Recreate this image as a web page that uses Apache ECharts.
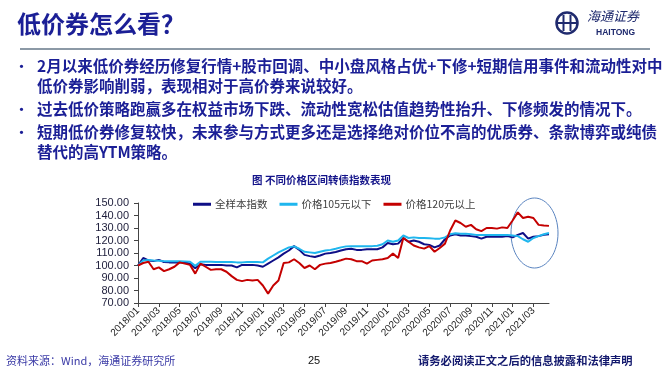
<!DOCTYPE html>
<html><head><meta charset="utf-8">
<script src="https://cdn.jsdelivr.net/npm/echarts@6/dist/echarts.min.js"></script>
<style>html,body{margin:0;padding:0;background:#fff;}#c{width:666px;height:373px;}</style>
</head><body><div id="c"></div>
<script>
const categories = [
'2018/01/01','2018/01/16','2018/02/01','2018/02/16','2018/03/01','2018/03/16','2018/04/01','2018/04/16','2018/05/01','2018/05/16',
'2018/06/01','2018/06/16','2018/07/01','2018/07/16','2018/08/01','2018/08/16','2018/09/01','2018/09/16','2018/10/01','2018/10/16',
'2018/11/01','2018/11/16','2018/12/01','2018/12/16','2019/01/01','2019/01/16','2019/02/01','2019/02/16','2019/03/01','2019/03/16',
'2019/04/01','2019/04/16','2019/05/01','2019/05/16','2019/06/01','2019/06/16','2019/07/01','2019/07/16','2019/08/01','2019/08/16',
'2019/09/01','2019/09/16','2019/10/01','2019/10/16','2019/11/01','2019/11/16','2019/12/01','2019/12/16','2020/01/01','2020/01/16',
'2020/02/01','2020/02/16','2020/03/01','2020/03/16','2020/04/01','2020/04/16','2020/05/01','2020/05/16','2020/06/01','2020/06/16',
'2020/07/01','2020/07/16','2020/08/01','2020/08/16','2020/09/01','2020/09/16','2020/10/01','2020/10/16','2020/11/01','2020/11/16',
'2020/12/01','2020/12/16','2021/01/01','2021/01/16','2021/02/01','2021/02/16','2021/03/01','2021/03/16','2021/04/01','2021/04/16'];

const seriesNames = ['全样本指数', '价格105元以下', '价格120元以上'];

const allIndex = [
100,106,104,103.5,104.5,102.8,102.5,102.5,102.5,102.5,
101.5,97.8,101,100.5,100.5,100.5,100.5,100,100,98.5,
100.5,100.5,100.5,100,99,101.5,104,106.5,109.5,112,
115.5,112.5,108.5,107.5,106.8,108,109.5,110,110.8,112,
113,113.4,112.5,112.5,113,113,113,114.5,118,117,
117.5,122,119,120,119,117,116.5,114.5,116,121,
124,125,124,124,123.5,123,121.5,123,123,123,
123,123.5,122.5,124.5,126,121.5,123,123.5,124.5,125];

const below105 = [
100,104,104.5,104,103.8,103.5,103.5,103.5,103.5,103.3,
103,99.7,103,103,103,102.8,102.8,102.8,102.8,102.5,
102.5,102.8,102.8,102.8,102.5,105.5,108,110.5,112.5,114.5,
115.3,113.4,111,110.5,110,111,112,112.5,113.4,114.5,
115.3,115.5,115.5,115.5,115.5,115.5,115.8,117,120,119,
120,124,122,122.5,122,122,121.8,121.5,121.5,122.5,
125,125.8,125.5,125.5,125,124.5,124.5,124.5,124.5,124.5,
124.5,124.5,124,123.5,121,119,122,123.5,125,126];

const above120 = [
100,102,103,97,98.5,95.5,97,99,102.5,101.5,
100.5,93.5,101.5,99,96.5,97,97,95,91.5,88.5,
87.5,88.5,88,88.5,84,77.5,84,88,102,102.5,
105,102,98,100,97,100.5,101.5,102,103,104.2,
105.5,105,103.5,103.5,101.5,104,104.5,105,106,109.5,
106,122,119,116,114.5,113.5,115.5,111,114,117.5,
128,136,134,131,132.5,129,127.5,130,130,129.5,
130.5,130,136,142.5,138,139,138,132.5,132,131.7];

const yTicks = {min: 70, max: 150, interval: 10};

const titleText = '低价券怎么看？';
const bullets = [
  {y: 68, lines: ['2月以来低价券经历修复行情+股市回调、中小盘风格占优+下修+短期信用事件和流动性对中', '低价券影响削弱，表现相对于高价券来说较好。']},
  {y: 111, lines: ['过去低价策略跑赢多在权益市场下跌、流动性宽松估值趋势性抬升、下修频发的情况下。']},
  {y: 134, lines: ['短期低价券修复较快，未来参与方式更多还是选择绝对价位不高的优质券、条款博弈或纯债', '替代的高YTM策略。']}
];
const chartTitle = '图 不同价格区间转债指数表现';
const sourceText = '资料来源：Wind，海通证券研究所';
const pageNo = '25';
const disclaimer = '请务必阅读正文之后的信息披露和法律声明';

const CJK = '"Noto Sans CJK SC", "Noto Sans", sans-serif';
const navy = '#1b1f96';

const graphics = [];
graphics.push({type:'text', left: 17, top: 12, style:{text: titleText, font: 'bold 24px ' + CJK, fill: navy}});
graphics.push({type:'line', shape:{x1: 20, y1: 49, x2: 650, y2: 49}, style:{stroke:'#8c99a6', lineWidth: 2}});
// logo
graphics.push({type:'circle', shape:{cx: 567, cy: 23, r: 10.5}, style:{fill:'none', stroke:'#1f2a6e', lineWidth: 2.5}});
graphics.push({type:'line', shape:{x1: 557, y1: 23, x2: 577, y2: 23}, style:{stroke:'#1f2a6e', lineWidth: 2}});
graphics.push({type:'line', shape:{x1: 563.5, y1: 15, x2: 563.5, y2: 31}, style:{stroke:'#1f2a6e', lineWidth: 2}});
graphics.push({type:'line', shape:{x1: 570.5, y1: 15, x2: 570.5, y2: 31}, style:{stroke:'#1f2a6e', lineWidth: 2}});
graphics.push({type:'text', left: 587, top: 10, style:{text:'海通证券', font:'italic 13px ' + CJK, fill:'#1f2a6e'}});
graphics.push({type:'text', left: 596, top: 28, style:{text:'HAITONG', font:'bold 8.5px "Liberation Sans", Arial, sans-serif', fill:'#1f2a6e'}});
// bullets
bullets.forEach(b => {
  graphics.push({type:'text', left: 15, top: b.y - 8, style:{text:'•', font:'bold 13px ' + CJK, fill: navy}});
  b.lines.forEach((ln, i) => {
    graphics.push({type:'text', left: 37, top: b.y - 10 + i * 20, style:{text: ln, font:'bold 15.5px ' + CJK, fill: navy}});
  });
});
graphics.push({type:'text', left: 252, top: 175, style:{text: chartTitle, font:'bold 10.5px ' + CJK, fill:'#14148a'}});
// highlight ellipse
graphics.push({type:'ellipse', shape:{cx: 534.5, cy: 233, rx: 23.5, ry: 35}, style:{fill:'none', stroke:'#5a84c0', lineWidth: 1}});
// footer
graphics.push({type:'text', left: 6, top: 355, style:{text: sourceText, font:'11px ' + CJK, fill:'#3a3aa6'}});
graphics.push({type:'text', left: 308, top: 355, style:{text: pageNo, font:'11px "Liberation Sans", Arial, sans-serif', fill:'#111'}});
graphics.push({type:'text', left: 418, top: 355, style:{text: disclaimer, font:'bold 11.3px ' + CJK, fill:'#141a6e'}});

function isLabel(idx, val) {
  const p = String(val).split('/');
  return p[2] === '01' && (+p[1]) % 2 === 1;
}

const chart = echarts.init(document.getElementById('c'), null, {renderer: 'canvas'});
chart.setOption({
  animation: false,
  backgroundColor: '#fff',
  grid: {left: 138, top: 203, width: 411, height: 100, containLabel: false},
  legend: {
    left: 188, top: 194, itemWidth: 18, itemHeight: 3, itemGap: 12, icon: 'rect',
    textStyle: {fontSize: 10.5, color: '#404040', fontFamily: CJK, padding: [0,0,0,-1]},
    data: seriesNames
  },
  xAxis: {
    type: 'category', data: categories, boundaryGap: false,
    axisLine: {lineStyle: {color: '#444', width: 1}},
    axisTick: {show: true, interval: isLabel, length: 4, lineStyle: {color: '#444'}},
    axisLabel: {interval: isLabel, rotate: 45, fontSize: 10, color: '#222', margin: 6,
      fontFamily: '"Liberation Sans", Arial, sans-serif', formatter: v => v.slice(0, 7)},
    splitLine: {show: false}
  },
  yAxis: {
    type: 'value', min: yTicks.min, max: yTicks.max, interval: yTicks.interval,
    axisLine: {show: true, lineStyle: {color: '#444', width: 1}},
    axisTick: {show: true, length: 4, lineStyle: {color: '#444'}},
    axisLabel: {fontSize: 11, color: '#1d1d3a', margin: 9,
      fontFamily: '"Liberation Sans", Arial, sans-serif', formatter: v => v.toFixed(2)},
    splitLine: {show: false}
  },
  series: [
    {name: seriesNames[0], type: 'line', data: allIndex, showSymbol: false, symbol: 'none',
      lineStyle: {color: '#0e0e86', width: 2}, itemStyle: {color: '#0e0e86'}},
    {name: seriesNames[1], type: 'line', data: below105, showSymbol: false, symbol: 'none',
      lineStyle: {color: '#1fb6ee', width: 2}, itemStyle: {color: '#1fb6ee'}},
    {name: seriesNames[2], type: 'line', data: above120, showSymbol: false, symbol: 'none',
      lineStyle: {color: '#c40000', width: 2}, itemStyle: {color: '#c40000'}}
  ],
  graphic: graphics
});
</script>
</body></html>
